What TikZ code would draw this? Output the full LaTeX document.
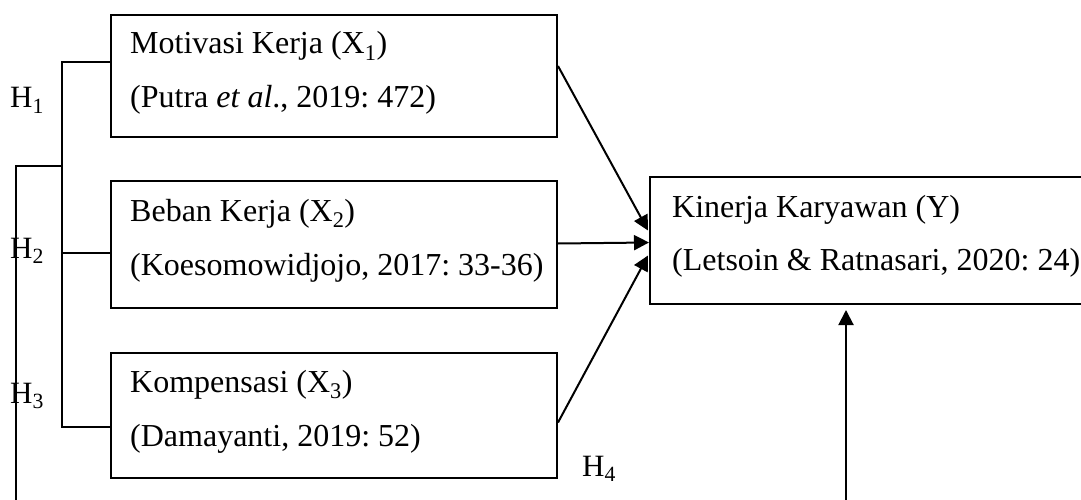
\documentclass[tikz,border=0pt]{standalone}
\usepackage{fontspec}
\setmainfont{Liberation Serif}
\frenchspacing
\usetikzlibrary{arrows.meta,calc}
\begin{document}
\begin{tikzpicture}[x=1pt,y=-1pt,
  box/.style={draw,line width=2pt,rectangle,inner sep=0pt,anchor=north west,minimum width=446pt},
  txt/.style={font=\fontsize{32}{36}\selectfont,inner sep=0pt,anchor=base west},
  ln/.style={line width=2pt},
  arr/.style={line width=2pt,-{Triangle[length=15pt,width=15pt]}},
  lab/.style={font=\fontsize{31}{36}\selectfont,inner sep=0pt,anchor=base west}]
\useasboundingbox (0,0) rectangle (1081,500);
\clip (0,0) rectangle (1081,500);
% boxes
\node[box,minimum height=122pt] (m) at (110,14) {};
\node[box,minimum height=127pt] (b) at (110,180) {};
\node[box,minimum height=125pt] (c) at (110,352) {};
\node[box,minimum height=127pt,minimum width=480pt] (y) at (649,176) {};
% texts
\node[txt] (m1) at (130,54) {Motivasi Kerja (X\textsubscript{1})};
\node[txt] (m2) at (130,108) {(Putra \textit{et al}., 2019: 472)};
\node[txt] (b1) at (130,221) {Beban Kerja (X\textsubscript{2})};
\node[txt] (b2) at (130,275) {(Koesomowidjojo, 2017: 33-36)};
\node[txt] (c1) at (130,392) {Kompensasi (X\textsubscript{3})};
\node[txt] (c2) at (130,446) {(Damayanti, 2019: 52)};
\node[txt] (y1) at (672,217) {Kinerja Karyawan (Y)};
\node[txt] (y2) at (672,270) {(Letsoin \& Ratnasari, 2020: 24)};
% arrows to Y
\draw[arr] ($(m.east)+(0,-10)$) -- ($(y.west)+(-1,-10)$);
\draw[arr] ($(b.east)+(0,-1)$) -- ($(y.west)+(0,2)$);
\draw[arr] ($(c.east)+(0,7)$) -- ($(y.west)+(-1,15)$);
% bracket
\coordinate (j1) at (62,62);
\coordinate (j2) at (62,253);
\coordinate (j3) at (62,427);
\draw[ln] (m.west |- j1) -- (j1) -- (j3) -- (c.west |- j3);
\draw[ln] (j2) -- (b.west |- j2);
\coordinate (k1) at (62,166);
\coordinate (k0) at (16,166);
\coordinate (k2) at (16,504);
\draw[ln] (k1) -- (k0) -- (k2);
\coordinate (b4) at (846,504);
\draw[arr,shorten >=5pt] (b4) -- (y.south -| b4);
% labels
\node[lab] (h1) at (10,108) {H\textsubscript{1}};
\node[lab] (h2) at (10,258) {H\textsubscript{2}};
\node[lab] (h3) at (10,403) {H\textsubscript{3}};
\node[lab] (h4) at (582,476) {H\textsubscript{4}};
\end{tikzpicture}
\end{document}
